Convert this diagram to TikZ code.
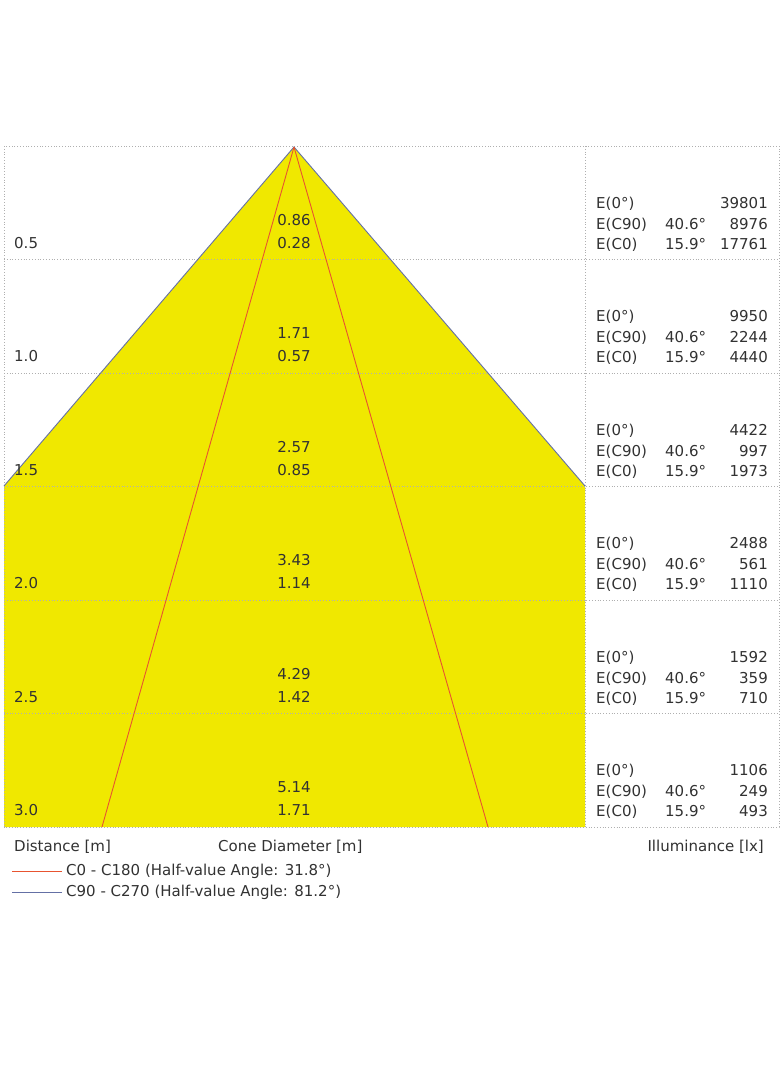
\documentclass[tikz,border=0pt]{standalone}
\usepackage{fontspec}
\setmainfont{DejaVu Sans}
\usepackage{tikz}
\usetikzlibrary{positioning}
\definecolor{coneyellow}{RGB}{240,232,0}
\definecolor{halfred}{RGB}{232,84,48}
\definecolor{halfblue}{RGB}{100,112,165}
\definecolor{gridgray}{RGB}{175,175,175}
\definecolor{txtgray}{RGB}{50,50,50}
\tikzset{
  lbl/.style={inner sep=0pt, text=txtgray, font=\fontsize{15}{17}\selectfont},
  gridline/.style={gridgray, dotted, line width=0.8pt},
}

\begin{document}
\begin{tikzpicture}[x=1pt,y=-1pt]
        \useasboundingbox (0,0) rectangle (784,1066);
        \fill[white] (0,0) rectangle (784,1066);
        % cone outline
        \coordinate (apex) at (294,147);
        \coordinate (lefttop) at (4,486);
        \coordinate (leftbot) at (4,827);
        \coordinate (righttop) at (585,486);
        \coordinate (rightbot) at (585,827);
        \coordinate (redleft) at (102,827);
        \coordinate (redright) at (488,827);
        \fill[coneyellow] (apex) -- (lefttop) -- (leftbot) -- (rightbot) -- (righttop) -- cycle;
        % grid
        \foreach \i in {1,...,5}
            \draw[gridline] (4,146+113.5*\i) -- (779,146+113.5*\i);
        \draw[gridline] (585,146) -- (585,827);
        \draw[gridline] (4,146) rectangle (779,827);
        % half-value lines
        \draw[halfblue, line width=0.9pt] (lefttop) -- (apex) -- (righttop);
        \draw[halfred, line width=0.9pt] (apex) -- (redleft);
        \draw[halfred, line width=0.9pt] (apex) -- (redright);
        % rows
        \foreach \d/\cnine/\czero/\ez/\en/\eo [count=\i] in
            {0.5/0.86/0.28/39801/8976/17761, 1.0/1.71/0.57/9950/2244/4440,
             1.5/2.57/0.85/4422/997/1973, 2.0/3.43/1.14/2488/561/1110,
             2.5/4.29/1.42/1592/359/710, 3.0/5.14/1.71/1106/249/493}{
            \pgfmathsetmacro{\yb}{146+113.5*\i}
            \node[lbl, anchor=mid west] (dist\i) at (14,\yb-14) {\d};
            \node[lbl, anchor=mid] (cnine\i) at (294,\yb-37) {\cnine};
            \node[lbl, anchor=mid] (czero\i) at (294,\yb-14) {\czero};
            \node[lbl, anchor=mid west] (ezl\i) at (596,\yb-54) {E(0°)};
            \node[lbl, anchor=mid west] (enl\i) at (596,\yb-33) {E(C90)};
            \node[lbl, anchor=mid west] (eol\i) at (596,\yb-13) {E(C0)};
            \node[lbl, anchor=mid west] (ena\i) at (665,\yb-33) {40.6°};
            \node[lbl, anchor=mid west] (eoa\i) at (665,\yb-13) {15.9°};
            \node[lbl, anchor=mid east] (ezv\i) at (768,\yb-54) {\ez};
            \node[lbl, anchor=mid east] (env\i) at (768,\yb-33) {\en};
            \node[lbl, anchor=mid east] (eov\i) at (768,\yb-13) {\eo};
        }
        % captions
        \node[lbl, anchor=mid west] (distcap) at (14,849) {Distance [m]};
        \node[lbl, anchor=mid west] (conecap) at (218,849) {Cone Diameter [m]};
        \node[lbl, anchor=mid east] (illcap) at (764,849) {Illuminance [lx]};
        % legend
        \node[lbl, anchor=mid west] (redkey) at (66,873) {C0 - C180 (Half-value Angle: 31.8°)};
        \node[lbl, anchor=mid west] (bluekey) at (66,894) {C90 - C270 (Half-value Angle: 81.2°)};
        \draw[halfred, line width=0.9pt] (redkey.west) ++(-4,0) -- ++(-50,0);
        \draw[halfblue, line width=0.9pt] (bluekey.west) ++(-4,0) -- ++(-50,0);
\end{tikzpicture}
\end{document}
